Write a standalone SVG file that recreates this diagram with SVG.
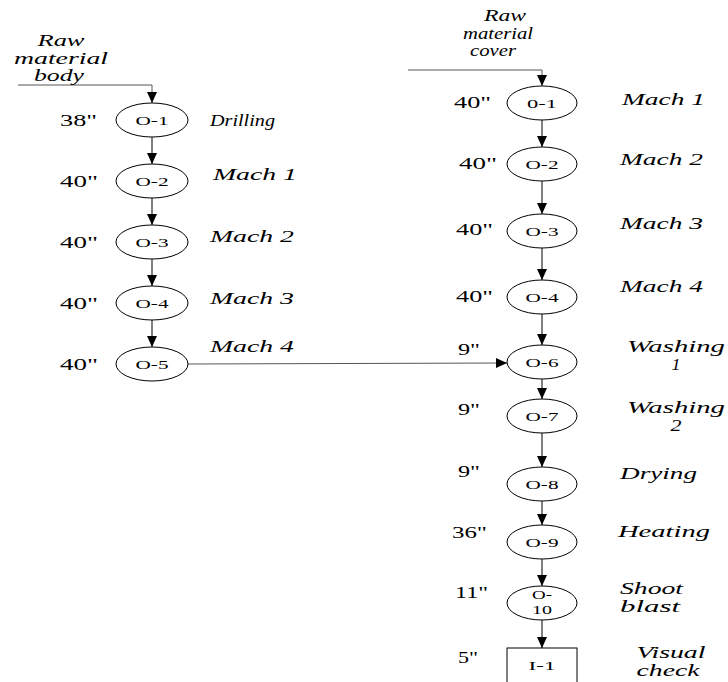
<svg xmlns="http://www.w3.org/2000/svg" width="728" height="682" viewBox="0 0 728 682" font-family="'Liberation Serif', 'Times New Roman', 'DejaVu Serif', serif">
<style>
text{font-family:'Liberation Serif','Times New Roman','DejaVu Serif',serif;fill:#000}
.it{font-style:italic;font-size:16px}
.tm{font-size:16px}
.n{font-size:13px;text-anchor:middle}
.c{text-anchor:middle}
.node ellipse,.node rect{fill:#fff;stroke:#000;stroke-width:1}
.con line,.con path{stroke:#000;stroke-width:1;fill:none}
.con .g{stroke:#555}
</style>
<defs>
<marker id="ah" markerUnits="userSpaceOnUse" markerWidth="11" markerHeight="10" refX="11" refY="5" orient="auto"><path d="M0,0 L11,5 L0,10 z" fill="#000"/></marker>
</defs>
<g id="connectors" class="con">
<path class="g" d="M18,85 H152 V103" marker-end="url(#ah)"/>
<line x1="152" y1="137" x2="152" y2="164" marker-end="url(#ah)"/>
<line x1="152" y1="198" x2="152" y2="225" marker-end="url(#ah)"/>
<line x1="152" y1="259" x2="152" y2="286" marker-end="url(#ah)"/>
<line x1="152" y1="320" x2="152" y2="347" marker-end="url(#ah)"/>
<line class="g" x1="188" y1="364" x2="507" y2="363" marker-end="url(#ah)"/>
<path class="g" d="M408,70 H542 V86" marker-end="url(#ah)"/>
<line x1="542" y1="120" x2="542" y2="147" marker-end="url(#ah)"/>
<line x1="542" y1="181" x2="542" y2="214" marker-end="url(#ah)"/>
<line x1="542" y1="248" x2="542" y2="280" marker-end="url(#ah)"/>
<line x1="542" y1="314" x2="542" y2="345" marker-end="url(#ah)"/>
<line x1="542" y1="379" x2="542" y2="399" marker-end="url(#ah)"/>
<line x1="542" y1="433" x2="542" y2="467" marker-end="url(#ah)"/>
<line x1="542" y1="501" x2="542" y2="525" marker-end="url(#ah)"/>
<line x1="542" y1="559" x2="542" y2="586" marker-end="url(#ah)"/>
<line x1="542" y1="620" x2="542" y2="648" marker-end="url(#ah)"/>
</g>
<g id="raw-body">
<text class="it c" x="61" y="46" textLength="47" lengthAdjust="spacingAndGlyphs">Raw</text>
<text class="it c" x="61" y="64" textLength="94" lengthAdjust="spacingAndGlyphs">material</text>
<text class="it c" x="59" y="81" textLength="50" lengthAdjust="spacingAndGlyphs">body</text>
</g>
<g id="raw-cover">
<text class="it c" x="505" y="21" textLength="42" lengthAdjust="spacingAndGlyphs">Raw</text>
<text class="it c" x="498" y="39" textLength="70" lengthAdjust="spacingAndGlyphs">material</text>
<text class="it c" x="493" y="56" textLength="46" lengthAdjust="spacingAndGlyphs">cover</text>
</g>
<g id="L-O1" class="node"><ellipse cx="152" cy="120" rx="36" ry="17"/><text class="n" x="152" y="125" textLength="33" lengthAdjust="spacingAndGlyphs">O-1</text><text class="tm" x="60" y="126" textLength="37" lengthAdjust="spacingAndGlyphs">38"</text><text class="it" x="210" y="126" textLength="65" lengthAdjust="spacingAndGlyphs">Drilling</text></g>
<g id="L-O2" class="node"><ellipse cx="152" cy="181" rx="36" ry="17"/><text class="n" x="152" y="186" textLength="33" lengthAdjust="spacingAndGlyphs">O-2</text><text class="tm" x="60" y="187" textLength="38" lengthAdjust="spacingAndGlyphs">40"</text><text class="it" x="213" y="180" textLength="84" lengthAdjust="spacingAndGlyphs">Mach 1</text></g>
<g id="L-O3" class="node"><ellipse cx="152" cy="242" rx="36" ry="17"/><text class="n" x="152" y="247" textLength="33" lengthAdjust="spacingAndGlyphs">O-3</text><text class="tm" x="60" y="248" textLength="38" lengthAdjust="spacingAndGlyphs">40"</text><text class="it" x="210" y="242" textLength="84" lengthAdjust="spacingAndGlyphs">Mach 2</text></g>
<g id="L-O4" class="node"><ellipse cx="152" cy="303" rx="36" ry="17"/><text class="n" x="152" y="308" textLength="33" lengthAdjust="spacingAndGlyphs">O-4</text><text class="tm" x="60" y="309" textLength="38" lengthAdjust="spacingAndGlyphs">40"</text><text class="it" x="210" y="304" textLength="84" lengthAdjust="spacingAndGlyphs">Mach 3</text></g>
<g id="L-O5" class="node"><ellipse cx="152" cy="364" rx="36" ry="17"/><text class="n" x="152" y="369" textLength="33" lengthAdjust="spacingAndGlyphs">O-5</text><text class="tm" x="60" y="370" textLength="38" lengthAdjust="spacingAndGlyphs">40"</text><text class="it" x="210" y="352" textLength="84" lengthAdjust="spacingAndGlyphs">Mach 4</text></g>
<g id="R-O1" class="node"><ellipse cx="542" cy="103" rx="35" ry="17"/><text class="n" x="542" y="108" textLength="30" lengthAdjust="spacingAndGlyphs">0-1</text><text class="tm" x="454" y="108" textLength="37" lengthAdjust="spacingAndGlyphs">40"</text><text class="it" x="622" y="105" textLength="83" lengthAdjust="spacingAndGlyphs">Mach 1</text></g>
<g id="R-O2" class="node"><ellipse cx="542" cy="164" rx="35" ry="17"/><text class="n" x="542" y="169" textLength="33" lengthAdjust="spacingAndGlyphs">O-2</text><text class="tm" x="459" y="169" textLength="38" lengthAdjust="spacingAndGlyphs">40"</text><text class="it" x="620" y="165" textLength="83" lengthAdjust="spacingAndGlyphs">Mach 2</text></g>
<g id="R-O3" class="node"><ellipse cx="542" cy="231" rx="35" ry="17"/><text class="n" x="542" y="236" textLength="33" lengthAdjust="spacingAndGlyphs">O-3</text><text class="tm" x="456" y="235" textLength="37" lengthAdjust="spacingAndGlyphs">40"</text><text class="it" x="620" y="229" textLength="83" lengthAdjust="spacingAndGlyphs">Mach 3</text></g>
<g id="R-O4" class="node"><ellipse cx="542" cy="297" rx="35" ry="17"/><text class="n" x="542" y="302" textLength="33" lengthAdjust="spacingAndGlyphs">O-4</text><text class="tm" x="456" y="302" textLength="37" lengthAdjust="spacingAndGlyphs">40"</text><text class="it" x="620" y="292" textLength="83" lengthAdjust="spacingAndGlyphs">Mach 4</text></g>
<g id="R-O6" class="node"><ellipse cx="542" cy="362" rx="35" ry="17"/><text class="n" x="542" y="367" textLength="33" lengthAdjust="spacingAndGlyphs">O-6</text><text class="tm" x="458" y="355" textLength="22" lengthAdjust="spacingAndGlyphs">9"</text><text class="it c" x="676" y="352" textLength="98" lengthAdjust="spacingAndGlyphs">Washing</text><text class="it c" x="676" y="370" textLength="9" lengthAdjust="spacingAndGlyphs">1</text></g>
<g id="R-O7" class="node"><ellipse cx="542" cy="416" rx="35" ry="17"/><text class="n" x="542" y="421" textLength="33" lengthAdjust="spacingAndGlyphs">O-7</text><text class="tm" x="458" y="415" textLength="22" lengthAdjust="spacingAndGlyphs">9"</text><text class="it c" x="676" y="413" textLength="98" lengthAdjust="spacingAndGlyphs">Washing</text><text class="it c" x="676" y="431" textLength="11" lengthAdjust="spacingAndGlyphs">2</text></g>
<g id="R-O8" class="node"><ellipse cx="542" cy="484" rx="35" ry="17"/><text class="n" x="542" y="489" textLength="33" lengthAdjust="spacingAndGlyphs">O-8</text><text class="tm" x="458" y="477" textLength="22" lengthAdjust="spacingAndGlyphs">9"</text><text class="it" x="620" y="479" textLength="77" lengthAdjust="spacingAndGlyphs">Drying</text></g>
<g id="R-O9" class="node"><ellipse cx="542" cy="542" rx="35" ry="17"/><text class="n" x="542" y="547" textLength="33" lengthAdjust="spacingAndGlyphs">O-9</text><text class="tm" x="452" y="538" textLength="35" lengthAdjust="spacingAndGlyphs">36"</text><text class="it" x="618" y="537" textLength="92" lengthAdjust="spacingAndGlyphs">Heating</text></g>
<g id="R-O10" class="node"><ellipse cx="542" cy="603" rx="35" ry="17"/><text class="n" x="542" y="599" textLength="20" lengthAdjust="spacingAndGlyphs">O-</text><text class="n" x="542" y="614" textLength="20" lengthAdjust="spacingAndGlyphs">10</text><text class="tm" x="455" y="598" textLength="33" lengthAdjust="spacingAndGlyphs">11"</text><text class="it" x="620" y="594" textLength="63" lengthAdjust="spacingAndGlyphs">Shoot</text><text class="it" x="620" y="612" textLength="60" lengthAdjust="spacingAndGlyphs">blast</text></g>
<g id="R-I1" class="node"><rect x="507" y="648" width="70" height="44"/><text class="n" x="542" y="670" textLength="27" lengthAdjust="spacingAndGlyphs">I-1</text><text class="tm" x="458" y="663" textLength="20" lengthAdjust="spacingAndGlyphs">5"</text><text class="it c" x="671" y="658" textLength="69" lengthAdjust="spacingAndGlyphs">Visual</text><text class="it c" x="668" y="676" textLength="63" lengthAdjust="spacingAndGlyphs">check</text></g>
</svg>
